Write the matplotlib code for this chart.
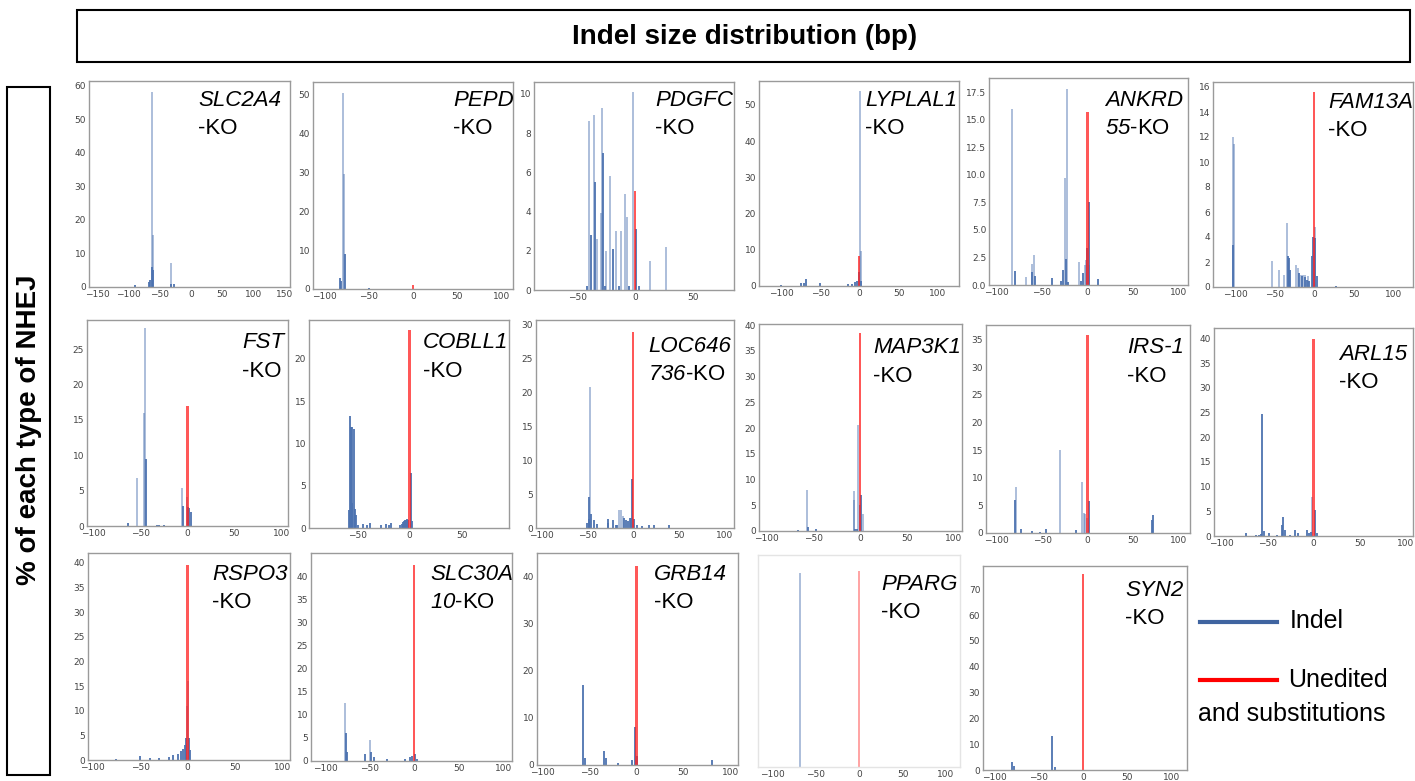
import matplotlib
matplotlib.use("Agg")
import matplotlib.pyplot as plt
from matplotlib.patches import Rectangle
from matplotlib.lines import Line2D
import numpy as np

plt.rcParams['mathtext.fontset'] = 'custom'
plt.rcParams['mathtext.it'] = 'Liberation Sans:italic'
plt.rcParams['mathtext.rm'] = 'Liberation Sans:italic'

W, H = 1415, 781

# ---------------- data (indel size in bp, % of reads) ----------------
slc2a4_pale = [(-63, 58.0), (-60, 15.5), (-32, 7.2)]
slc2a4_solid = [(-63, 6.0), (-61, 5.0), (-65, 2.0), (-67, 1.5), (-90, 0.7), (-32, 1.0), (-27, 0.9)]
slc2a4_red = 0.0

pepd_pale = [(-79, 50.5), (-78, 29.5)]
pepd_solid = [(-77, 9.0), (-83, 2.8), (-81, 2.0), (-50, 0.3)]
pepd_red = 1.0

pdgfc_pale = [(-40, 8.6), (-36, 8.9), (-33, 2.6), (-30, 3.9), (-29, 9.3), (-25, 2.0), (-22, 5.8),
              (-17, 3.0), (-12, 3.0), (-9, 4.9), (-7, 3.7), (-1.5, 10.1), (13, 1.5), (27, 2.2)]
pdgfc_solid = [(-38, 2.8), (-35, 5.5), (-28, 7.0), (-19, 2.1), (1, 3.1), (-42, 0.2), (-26, 0.2),
               (-14, 0.2), (-5, 0.2), (3, 0.2)]
pdgfc_red = 5.05

lyplal1_pale = [(0.5, 53.9), (1.5, 9.8)]
lyplal1_solid = [(-1, 4.0), (-74, 0.9), (-71, 0.9), (-68, 2.0), (-100, 0.2), (-50, 0.7), (-15, 0.6),
                 (-10, 0.5), (-5, 1.0), (-3, 1.5), (1.5, 1.5)]
lyplal1_red = 8.2

ankrd55_pale = [(-83, 16.0), (-60.5, 1.9), (-59, 2.7), (-67, 0.7), (-25, 9.7), (-23, 17.8), (-9.5, 2.1),
                (-3, 1.8), (-2, 2.3), (2, 1.8)]
ankrd55_solid = [(-79, 1.3), (-61, 1.2), (-57.5, 0.8), (-39, 0.6), (-29, 0.4), (-26.5, 1.4), (-24, 2.4),
                 (-21, 0.3), (-7.5, 0.4), (-4.5, 1.1), (-1, 3.4), (1, 7.5), (11, 0.5)]
ankrd55_red = 15.7

fam13a_pale = [(-102.5, 12.0), (-101, 11.4), (-53, 2.1), (-44, 1.4), (-38, 1.0), (-34, 5.1), (-23.5, 1.8),
               (-21, 1.5), (-17, 1.0), (-14, 1.0), (-11, 1.0), (-8, 0.9), (0.5, 4.8)]
fam13a_solid = [(-103, 3.4), (-33, 2.5), (-32, 2.3), (-30.5, 1.4), (-19, 1.1), (-15, 0.9), (-12, 0.8),
                (-9.5, 0.6), (-6, 0.5), (-3, 2.5), (-1.5, 4.0), (0.5, 3.9), (3.5, 0.9), (28, 0.1)]
fam13a_red = 15.6

fst_pale = [(-54, 6.8), (-46.7, 16.0), (-45.6, 27.9), (-6.3, 5.3), (-1, 4.1)]
fst_solid = [(-63.5, 0.4), (-44.2, 9.4), (-33, 0.2), (-30, 0.2), (-25, 0.2), (-5.3, 2.8), (0.7, 2.7),
             (2, 2.6), (3.9, 2.0)]
fst_red = 17.0

cobll1_pale = []
cobll1_solid = [(-58, 2.1), (-57, 13.3), (-56, 12.0), (-55, 3.0), (-54.5, 12.0), (-53.5, 11.7), (-52.5, 2.2),
                (-51.5, 1.5), (-49, 0.3), (-44, 0.5), (-41, 0.4), (-38, 0.6), (-27, 0.4), (-22, 0.5),
                (-20, 0.4), (-18, 0.6), (-9, 0.3), (-7, 0.5), (-6, 0.7), (-5, 0.8), (-4, 1.0), (-3, 0.9),
                (-2, 1.1), (-1, 1.0), (1.3, 6.5), (2.5, 0.8)]
cobll1_red = 23.4

loc646736_pale = [(-47, 20.8), (-15.6, 2.6), (-13, 2.7), (-11, 1.8)]
loc646736_solid = [(-50.7, 0.8), (-48.5, 1.3), (-47.8, 4.5), (-46, 2.0), (-42.6, 1.2), (-39, 0.6), (-28, 1.3),
                   (-27, 0.8), (-22, 1.2), (-19, 0.5), (-18, 0.5), (-10, 1.5), (-8, 1.2), (-6, 1.0),
                   (-4, 1.5), (-2, 1.4), (-1.1, 7.2), (1.1, 1.3), (4, 0.5), (10, 0.3), (17, 0.4), (23, 0.4),
                   (39, 0.4)]
loc646736_red = 28.8

map3k1_pale = [(-56.3, 8.0), (-6.8, 6.0), (-6.1, 7.7), (-1.8, 20.5), (3.6, 3.3)]
map3k1_solid = [(-66.7, 0.1), (-55.5, 0.7), (-47, 0.4), (-5, 0.3), (-3.5, 0.3), (-0.4, 5.0), (1.1, 6.9)]
map3k1_red = 38.4

irs1_pale = [(-79, 8.4), (-6.3, 9.2), (-4.4, 3.6), (-3, 3.4), (-1.1, 2.7), (-30.5, 15.0)]
irs1_solid = [(-79.8, 6.0), (-73.5, 0.8), (-61, 0.4), (-52.6, 0.2), (-46.3, 0.7), (-13.2, 0.5), (1.5, 5.8),
              (71.5, 2.3), (72.4, 3.3)]
irs1_red = 35.8

arl15_pale = [(-1.8, 7.8)]
arl15_solid = [(-73, 0.7), (-62, 0.3), (-59, 0.3), (-57, 0.4), (-55.4, 24.6), (-53.6, 1.0), (-48, 0.6),
               (-39.6, 0.3), (-34.2, 2.3), (-32.7, 3.8), (-31.3, 1.3), (-25, 0.3), (-19.8, 1.3), (-17, 0.6),
               (-7.2, 1.2), (-5, 0.6), (-3, 0.8), (1.1, 5.2), (4.3, 0.7)]
arl15_red = 39.8

rspo3_pale = [(0.5, 16.0), (-1, 11.0)]
rspo3_solid = [(-75, 0.3), (-50, 0.8), (-40, 0.5), (-30, 0.5), (-20, 0.6), (-15, 1.0), (-10, 1.3), (-7, 1.8),
               (-5, 2.2), (-3, 3.0), (-1.5, 4.5), (1.5, 4.5), (3, 2.0)]
rspo3_red = 39.6

slc30a10_pale = [(-78, 12.5), (-50, 4.5)]
slc30a10_solid = [(-77, 6.0), (-76, 2.0), (-55, 1.5), (-48, 2.0), (-45, 0.8), (-30, 0.4), (-10, 0.5),
                  (-5, 0.8), (-2, 1.0), (1, 1.5), (3, 0.5)]
slc30a10_red = 42.6

grb14_pale = []
grb14_solid = [(-57, 17.0), (-55, 1.5), (-35, 3.0), (-33, 1.5), (-20, 0.5), (-5, 1.0), (-2, 8.0), (0.5, 2.0),
               (80, 1.0)]
grb14_red = 42.3

pparg_pale = [(-68, 47.5)]
pparg_solid = []
pparg_red = 48.0

syn2_pale = []
syn2_solid = [(-80, 3.0), (-78, 1.5), (-35, 13.0), (-32, 1.0)]
syn2_red = 76.0

# y tick maxima and steps
ytick_max = [60, 50, 10, 50, 17.5, 16, 25, 20, 30, 40, 35, 40, 40, 40, 40, None, 70]
ytick_step = [10, 10, 2, 10, 2.5, 2, 5, 5, 5, 5, 5, 5, 5, 5, 10, None, 10]

# labels: (italic first line, italic part of second line)
labels = [("SLC2A4", ""), ("PEPD", ""), ("PDGFC", ""), ("LYPLAL1", ""), ("ANKRD", "55"), ("FAM13A", ""),
          ("FST", ""), ("COBLL1", ""), ("LOC646", "736"), ("MAP3K1", ""), ("IRS-1", ""), ("ARL15", ""),
          ("RSPO3", ""), ("SLC30A", "10"), ("GRB14", ""), ("PPARG", ""), ("SYN2", "")]

series = [(slc2a4_pale, slc2a4_solid, slc2a4_red), (pepd_pale, pepd_solid, pepd_red),
          (pdgfc_pale, pdgfc_solid, pdgfc_red), (lyplal1_pale, lyplal1_solid, lyplal1_red),
          (ankrd55_pale, ankrd55_solid, ankrd55_red), (fam13a_pale, fam13a_solid, fam13a_red),
          (fst_pale, fst_solid, fst_red), (cobll1_pale, cobll1_solid, cobll1_red),
          (loc646736_pale, loc646736_solid, loc646736_red), (map3k1_pale, map3k1_solid, map3k1_red),
          (irs1_pale, irs1_solid, irs1_red), (arl15_pale, arl15_solid, arl15_red),
          (rspo3_pale, rspo3_solid, rspo3_red), (slc30a10_pale, slc30a10_solid, slc30a10_red),
          (grb14_pale, grb14_solid, grb14_red), (pparg_pale, pparg_solid, pparg_red),
          (syn2_pale, syn2_solid, syn2_red)]

# ---------------- layout ----------------
boxes = [(89, 81, 290, 287), (313, 82, 513, 289), (534, 82, 734, 290), (759, 81, 959, 286),
         (989, 78, 1188, 285), (1213, 82, 1413, 287),
         (87, 320, 288, 526), (309, 320, 509, 528), (536, 320, 734, 528), (759, 324, 962, 531),
         (986, 325, 1190, 533), (1214, 328, 1413, 536),
         (88, 553, 290, 760), (311, 553, 512, 761), (537, 553, 738, 765), (758, 555, 960, 767),
         (983, 566, 1187, 770)]
xlims = [(-163, 158), (-113, 113), (-88, 86), (-128, 127), (-108, 110), (-128, 125),
         (-107, 107), (-96, 95), (-106, 110), (-108, 109), (-112, 113), (-108, 108),
         (-105, 108), (-116, 110), (-106, 108), (-116, 116), (-113, 118)]
ytops = [61.4, 53.2, 10.6, 56.6, 18.8, 16.4, 29.1, 24.6, 30.6, 40.2, 37.6, 42.1, 42.0, 45.2, 45.1, 52.0, 79.0]
label_pos = [(198, 100), (453, 101), (655, 101), (865, 101), (1105, 100), (1328, 102),
             (242, 343), (423, 343), (648, 346), (873, 348), (1127, 348), (1339, 354),
             (212, 575), (430, 575), (654, 575), (881, 585), (1125, 590)]

BLUE = '#4c72b0'
RED = '#ff2020'

fig = plt.figure(figsize=(W / 100, H / 100), dpi=100)


def fbox(l, t, r, b):
    return [l / W, 1 - b / H, (r - l) / W, (b - t) / H]


for i, (box, (pale, solid, red)) in enumerate(zip(boxes, series)):
    ax = fig.add_axes(fbox(*box))
    for s in ax.spines.values():
        s.set_color('#9a9a9a' if i != 15 else '#e4e4e4')
        s.set_linewidth(1.0)
    ppu = (box[2] - box[0]) / (xlims[i][1] - xlims[i][0])
    bw = 2.0 / ppu
    if pale:
        px, ph = zip(*pale)
        ax.bar(px, ph, width=bw, color=BLUE, alpha=0.45, linewidth=0)
    if solid:
        sx, sh = zip(*solid)
        ax.bar(sx, sh, width=bw, color=BLUE, alpha=0.9, linewidth=0)
    if red > 0:
        ax.bar([0], [red], width=2.2 / ppu, color=RED, alpha=0.75 if i != 15 else 0.4, linewidth=0)
    ax.set_xticks(np.arange(-150, 151, 50))
    ax.set_xlim(*xlims[i])
    ax.set_ylim(0, ytops[i])
    if ytick_max[i] is None:
        ax.set_yticks([])
    else:
        yt = np.arange(0, ytick_max[i] + 1e-9, ytick_step[i])
        ax.set_yticks(yt)
        if i == 4:
            ax.set_yticklabels([f"{v:.1f}" for v in yt])
    ax.tick_params(length=0, labelsize=6.5, labelcolor='#444444', pad=2)

    g1, g2 = labels[i]
    lx, ly = label_pos[i]
    fig.text(lx / W, 1 - ly / H, g1, fontsize=16, fontstyle='italic', family='Liberation Sans',
             ha='left', va='center')
    line2 = (r"$\mathit{" + g2 + r"}$-KO") if g2 else "-KO"
    fig.text(lx / W, 1 - (ly + 28) / H, line2, fontsize=16, family='Liberation Sans',
             ha='left', va='center')

# title box
fig.add_artist(Rectangle((77 / W, 1 - 62 / H), (1410 - 77) / W, 52 / H, transform=fig.transFigure,
                         fill=False, edgecolor='black', linewidth=1.5))
fig.text(745 / W, 1 - 37 / H, "Indel size distribution (bp)", fontsize=20, fontweight='bold',
         family='Liberation Sans', ha='center', va='center')

# left box
fig.add_artist(Rectangle((7 / W, 1 - 775 / H), 43 / W, (775 - 87) / H, transform=fig.transFigure,
                         fill=False, edgecolor='black', linewidth=1.5))
fig.text(29 / W, 1 - 430 / H, "% of each type of NHEJ", fontsize=20, fontweight='bold',
         family='Liberation Sans', rotation=90, ha='center', va='center')

# legend
fig.add_artist(Line2D([1200 / W, 1277 / W], [1 - 622 / H, 1 - 622 / H], transform=fig.transFigure,
                      color='#3f64a0', linewidth=3))
fig.text(1290 / W, 1 - 621 / H, "Indel", fontsize=18, family='Liberation Sans', ha='left', va='center')
fig.add_artist(Line2D([1200 / W, 1277 / W], [1 - 680 / H, 1 - 680 / H], transform=fig.transFigure,
                      color='#ff0000', linewidth=3))
fig.text(1288 / W, 1 - 680 / H, "Unedited", fontsize=18, family='Liberation Sans', ha='left', va='center')
fig.text(1198 / W, 1 - 714 / H, "and substitutions", fontsize=18, family='Liberation Sans', ha='left',
         va='center')

fig.savefig("out.png", dpi=100)
